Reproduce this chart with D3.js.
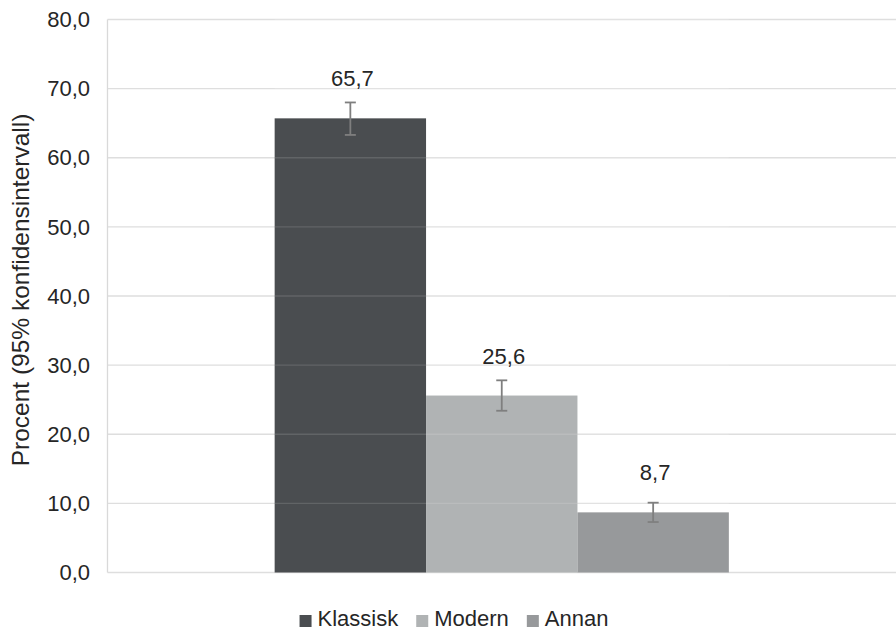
<!DOCTYPE html>
<html>
<head>
<meta charset="utf-8">
<script src="https://cdn.jsdelivr.net/npm/d3@7"></script>
<style>
  body { margin: 0; background: #fff; }
  svg { display: block; font-family: "Liberation Sans", Arial, sans-serif; }
</style>
</head>
<body>
<svg id="chart" width="896" height="630"></svg>
<script>
// --- data ---
const series = ["Klassisk", "Modern", "Annan"];
const values = [65.7, 25.6, 8.7];
const ciLow = [63.3, 23.4, 7.3];
const ciHigh = [68.0, 27.8, 10.1];
const colors = ["#4a4d50", "#b0b3b4", "#97999b"];
const yTicks = [0, 10, 20, 30, 40, 50, 60, 70, 80];
const yTitle = "Procent (95% konfidensintervall)";

const fmt = v => d3.format(".1f")(v).replace(".", ",");

const svg = d3.select("#chart");
const width = 896, height = 630;
const margin = { top: 19.5, right: 0, bottom: 57.5, left: 107.5 };

const y = d3.scaleLinear().domain([0, 80]).range([height - margin.bottom, margin.top]);
const x0 = d3.scaleBand().domain(["all"]).range([margin.left, width - margin.right])
    .paddingInner(0).paddingOuter(0.368);
const x1 = d3.scaleBand().domain(series).range([0, x0.bandwidth()]).padding(0);

const rows = series.map((s, i) => ({ name: s, value: values[i], lo: ciLow[i], hi: ciHigh[i], color: colors[i] }));

// gridlines
svg.append("g").selectAll("line").data(yTicks).join("line")
    .attr("x1", margin.left).attr("x2", width - margin.right)
    .attr("y1", d => y(d)).attr("y2", d => y(d))
    .attr("stroke", "#dedede").attr("stroke-width", 1.3);

// left axis line
svg.append("line")
    .attr("x1", margin.left).attr("x2", margin.left)
    .attr("y1", y(80)).attr("y2", y(0))
    .attr("stroke", "#d9d9d9").attr("stroke-width", 1.3);

// tick labels
svg.append("g").selectAll("text").data(yTicks).join("text")
    .attr("x", 90).attr("y", d => y(d)).attr("dy", "0.35em")
    .attr("text-anchor", "end").attr("font-size", 22).attr("fill", "#262626")
    .text(d => fmt(d));

// bars
const g = svg.append("g").attr("transform", `translate(${x0("all")},0)`);
g.selectAll("rect").data(rows).join("rect")
    .attr("x", d => x1(d.name)).attr("width", x1.bandwidth())
    .attr("y", d => y(d.value)).attr("height", d => y(0) - y(d.value))
    .attr("fill", d => d.color);

// faint gridlines showing through bars
g.append("g").selectAll("line").data(yTicks.filter(t => t > 0)).join("line")
    .attr("x1", 0).attr("x2", x0.bandwidth())
    .attr("y1", d => y(d)).attr("y2", d => y(d))
    .attr("stroke", "#fff").attr("stroke-opacity", 0.13).attr("stroke-width", 1.3);

// error bars
const eb = g.append("g").attr("stroke", "#7f7f7f").attr("stroke-width", 1.8);
rows.forEach(d => {
    const cx = x1(d.name) + x1.bandwidth() / 2;
    eb.append("line").attr("x1", cx).attr("x2", cx).attr("y1", y(d.hi)).attr("y2", y(d.lo));
    eb.append("line").attr("x1", cx - 5.5).attr("x2", cx + 5.5).attr("y1", y(d.hi)).attr("y2", y(d.hi));
    eb.append("line").attr("x1", cx - 5.5).attr("x2", cx + 5.5).attr("y1", y(d.lo)).attr("y2", y(d.lo));
});

// value labels
g.selectAll("text.val").data(rows).join("text").attr("class", "val")
    .attr("x", d => x1(d.name) + x1.bandwidth() / 2 + 2)
    .attr("y", d => y(d.value) - 32)
    .attr("text-anchor", "middle").attr("font-size", 22).attr("fill", "#262626")
    .text(d => fmt(d.value));

// y title
svg.append("text")
    .attr("transform", `translate(29,290) rotate(-90)`)
    .attr("text-anchor", "middle").attr("font-size", 24.5).attr("fill", "#262626")
    .text(yTitle);

// legend
const legend = svg.append("g").attr("transform", "translate(0,626)");
let lx = 0;
const items = legend.selectAll("g").data(rows).join("g");
items.append("rect").attr("y", -11).attr("width", 12).attr("height", 12).attr("fill", d => d.color);
items.append("text").attr("x", 18).attr("font-size", 22).attr("fill", "#262626").text(d => d.name);
items.each(function() {
    d3.select(this).attr("transform", `translate(${lx},0)`);
    lx += 18 + this.querySelector("text").getComputedTextLength() + 18;
});
const legW = lx - 18;
legend.attr("transform", `translate(${454 - legW / 2},626)`);
</script>
</body>
</html>
